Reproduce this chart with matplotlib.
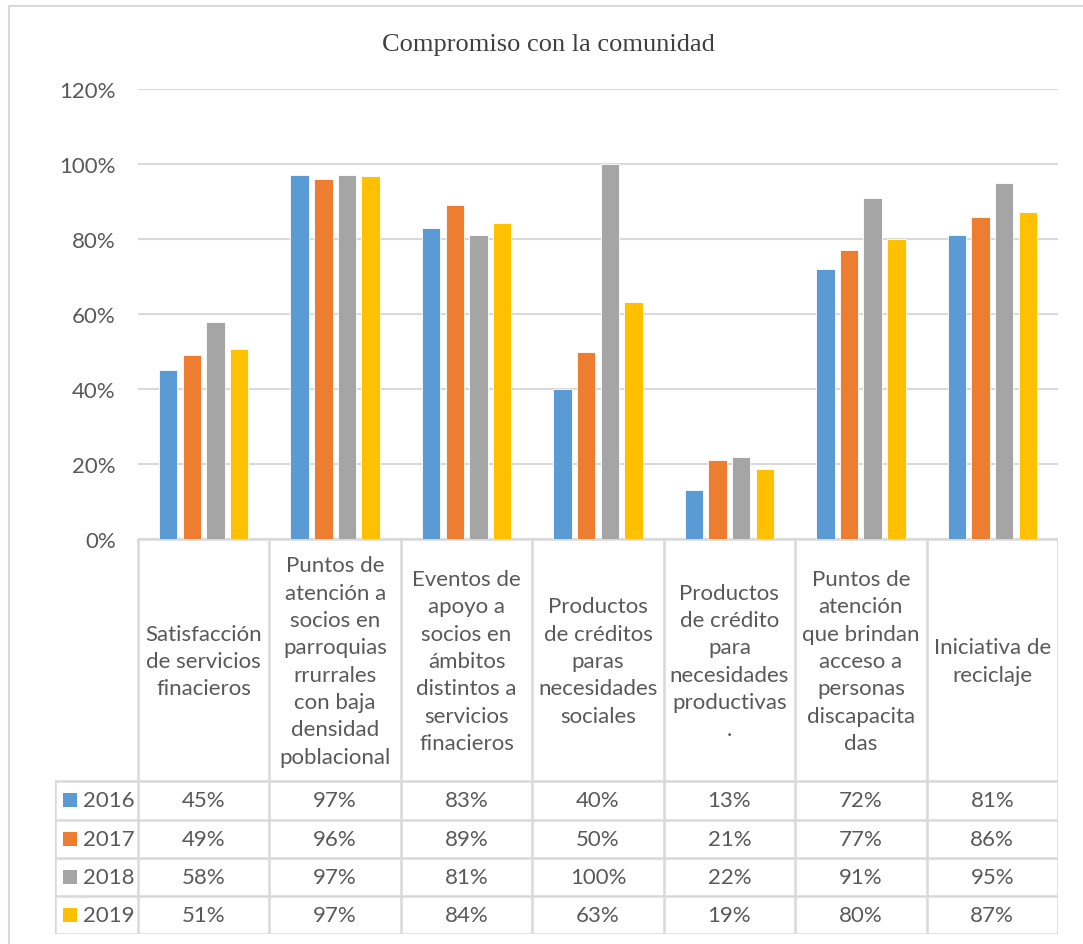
import matplotlib
matplotlib.use("Agg")
import matplotlib.pyplot as plt
from matplotlib.lines import Line2D
from matplotlib.patches import Rectangle

# data
categories = [
    "Satisfacción\nde servicios\nfinacieros",
    "Puntos de\natención a\nsocios en\nparroquias\nrrurrales\ncon baja\ndensidad\npoblacional",
    "Eventos de\napoyo a\nsocios en\námbitos\ndistintos a\nservicios\nfinacieros",
    "Productos\nde créditos\nparas\nnecesidades\nsociales",
    "Productos\nde crédito\npara\nnecesidades\nproductivas\n.",
    "Puntos de\natención\nque brindan\nacceso a\npersonas\ndiscapacita\ndas",
    "Iniciativa de\nreciclaje",
]
years = ["2016", "2017", "2018", "2019"]
v2016 = [0.45, 0.97, 0.83, 0.40, 0.13, 0.72, 0.81]
v2017 = [0.49, 0.96, 0.89, 0.50, 0.21, 0.77, 0.86]
v2018 = [0.58, 0.97, 0.81, 1.00, 0.22, 0.91, 0.95]
v2019 = [0.507, 0.967, 0.843, 0.633, 0.187, 0.80, 0.873]
series = [v2016, v2017, v2018, v2019]
colors = ["#5B9BD5", "#ED7D31", "#A5A5A5", "#FFC000"]

W, H = 1083, 945
TXT = "#595959"
GRID = "#D9D9D9"
FONT = ["Lato", "DejaVu Sans"]
FS = 16

plt.rcParams["font.family"] = FONT

fig = plt.figure(figsize=(W / 100, H / 100), dpi=100)


def fx(px):
    return px / W


def fy(py):
    return 1 - py / H


# chart frame
fig.add_artist(Line2D([fx(9), fx(9)], [fy(7), 0], color=GRID, lw=1.5))
fig.add_artist(Line2D([fx(9), 1], [fy(7), fy(7)], color=GRID, lw=1.5))

# plot area
x0, x1, ytop, ybot = 138, 1058, 90, 540
ax = fig.add_axes([fx(x0), fy(ybot), fx(x1) - fx(x0), fy(ytop) - fy(ybot)])
n = len(categories)
xs = list(range(n))
bw = 0.14
offs = [-0.27, -0.09, 0.09, 0.27]
for vals, col, off in zip(series, colors, offs):
    ax.bar([x + off for x in xs], vals, width=bw, color=col,
           edgecolor="white", linewidth=0.6, zorder=3)
ax.set_xlim(-0.5, n - 0.5)
ax.set_ylim(0, 1.2)
ax.set_yticks([0, 0.2, 0.4, 0.6, 0.8, 1.0, 1.2])
ax.set_yticklabels(["0%", "20%", "40%", "60%", "80%", "100%", "120%"],
                   color=TXT, fontsize=FS)
ax.tick_params(axis="y", length=0, pad=16)
ax.set_xticks([])
for s in ["top", "left", "right", "bottom"]:
    ax.spines[s].set_visible(False)
ax.yaxis.grid(True, color=GRID, lw=1.5, zorder=0)
ax.set_axisbelow(True)

# data table below the plot area
tl, tb = 55, 935
cat_px = (x1 - x0) / n
left_units = -0.5 - (x0 - tl) / cat_px
tax = fig.add_axes([fx(tl), fy(tb), fx(x1) - fx(tl), fy(ybot) - fy(tb)])
tax.set_xlim(left_units, n - 0.5)
tax.set_ylim(tb, ybot)
tax.axis("off")

row_edges = [782, 821, 859, 897, 935]
lkw = dict(color=GRID, lw=1.8, solid_capstyle="projecting")
tax.plot([-0.5, n - 0.5], [ybot, ybot], **lkw)
for y in row_edges:
    tax.plot([left_units, n - 0.5], [y, y], **lkw)
for i in range(n + 1):
    tax.plot([i - 0.5, i - 0.5], [ybot, tb], **lkw)
tax.plot([left_units, left_units], [row_edges[0], tb], **lkw)

for i, lab in enumerate(categories):
    tax.text(i, (ybot + row_edges[0]) / 2 + 1, lab, ha="center", va="center",
             color=TXT, fontsize=FS, linespacing=1.46)

for r, (yr, vals, col) in enumerate(zip(years, series, colors)):
    yc = (row_edges[r] + row_edges[r + 1]) / 2
    tax.add_patch(Rectangle((left_units + 8 / cat_px, yc - 7), 14 / cat_px, 14,
                            color=col, lw=0))
    tax.text(left_units + 28 / cat_px, yc, yr, ha="left", va="center",
             color=TXT, fontsize=FS)
    for i, v in enumerate(vals):
        tax.text(i, yc, f"{round(v * 100):.0f}%", ha="center", va="center",
                 color=TXT, fontsize=FS)

fig.text(fx(548), fy(45), "Compromiso con la comunidad", ha="center",
         va="center", fontsize=19, color="#404040",
         family=["Liberation Serif", "DejaVu Serif"])

fig.savefig("out.png", dpi=100)
